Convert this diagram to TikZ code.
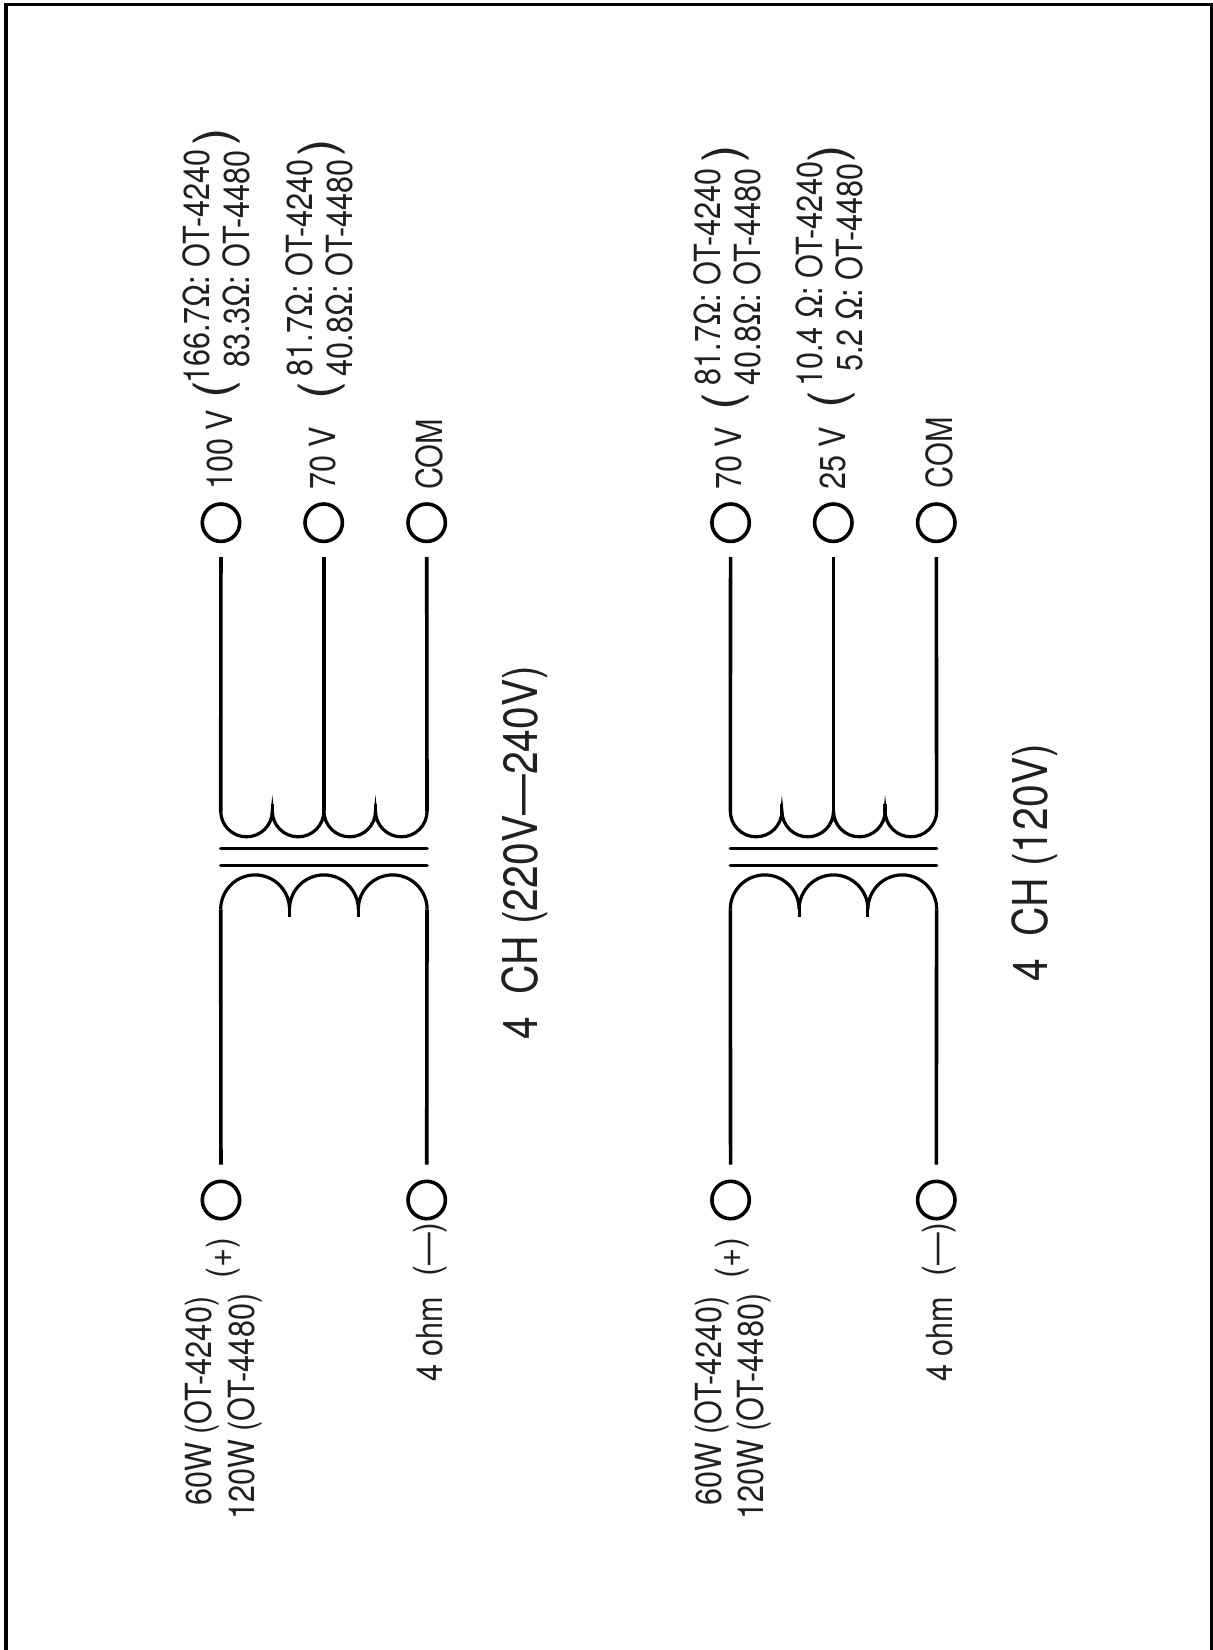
\documentclass[tikz,border=0pt]{standalone}
\usepackage{fontspec}
\setmainfont{TeX Gyre Heros}
\definecolor{inkgray}{HTML}{231F20}
\tikzset{
    wire/.style={black, line width=3.6pt},
    term/.style={circle, draw=black, line width=3.6pt, inner sep=0pt, minimum size=37.4pt},
    lab/.style={inkgray, anchor=base west, rotate=90, xscale=0.85, inner sep=0pt,
        font=\fontsize{36}{36}\selectfont},
    title/.style={lab, font=\fontsize{48}{48}\selectfont},
    sign/.style={lab, xscale=1.07},
    brace/.style={inkgray, anchor=center, rotate=90, xscale=1.05, inner sep=0pt,
        font=\fontsize{50}{50}\selectfont}
}
\begin{document}
\begin{tikzpicture}[x=1pt,y=-1pt]
    \useasboundingbox (0,0) rectangle (1213,1650);
    % Draw outside frame
    \coordinate (frameA) at (5.7,1652);
    \coordinate (frameB) at (5.7,4.6);
    \coordinate (frameC) at (1211.5,4.6);
    \coordinate (frameD) at (1211.5,1652);
    \draw[black, line width=3.6pt] (frameA) -- (frameB) -- (frameC) -- (frameD);
    % Draw the two transformers
    \foreach \dx/\pre in {0/a, 509.6/b}
    {
        \begin{scope}[xshift=\dx pt, name prefix=\pre-]
            % Terminals
            \node[term] (t1) at (221,522.7) {};
            \node[term] (t2) at (323.7,522.7) {};
            \node[term] (t3) at (426.7,522.7) {};
            \node[term] (in) at (221,1200) {};
            \node[term] (out) at (426.7,1200) {};
            % Upper coil
            \coordinate (u1) at (220.7,811);
            \coordinate (u2) at (323.7,811);
            \coordinate (u3) at (427,811);
            \draw[wire, shorten <=14pt] (t1) -- (u1);
            \draw[wire, shorten <=14pt] (t2) -- (u2);
            \draw[wire, shorten <=14pt] (t3) -- (u3);
            \draw[wire, line width=3.2pt] (u1)
                \foreach \i in {1,2,3,4} {arc[start angle=180, end angle=360, radius=25.8pt]};
            \draw[wire, line width=3.2pt] (272.2,804) -- (272.2,813);
            \draw[wire, line width=3.2pt] (375.4,804) -- (375.4,813);
            % Core
            \coordinate (c1) at (220.7,848.3);
            \coordinate (c2) at (427,848.3);
            \coordinate (c3) at (220.7,865.3);
            \coordinate (c4) at (427,865.3);
            \draw[wire, line cap=round] (c1) -- (c2);
            \draw[wire, line cap=round] (c3) -- (c4);
            % Lower coil
            \coordinate (p1) at (220.7,909.3);
            \coordinate (p2) at (427,909.3);
            \draw[wire, line width=3.2pt] (p1)
                \foreach \i in {1,2,3} {arc[start angle=180, end angle=0, radius=34.4pt]};
            \draw[wire, line width=3.2pt] (289.5,905) -- (289.5,917);
            \draw[wire, line width=3.2pt] (358.2,905) -- (358.2,917);
            \draw[wire, shorten >=15pt] (p1) -- (in);
            \draw[wire, shorten >=15pt] (p2) -- (out);
        \end{scope}
    }
    % Left labels
    \node[lab] (l100) at (232.7,490) {100 V};
    \node[lab] (l70) at (335.7,490) {70 V};
    \node[lab] (lcom) at (442,490) {COM};
    \node[lab] (la1) at (209.3,384) {166.7Ω: OT-4240};
    \node[lab] (la2) at (249.3,367.5) {83.3Ω: OT-4480};
    \node[brace] (lao) at (216.5,390) {(};
    \node[brace] (lac) at (216.5,137) {)};
    \node[lab] (lb1) at (312.7,376.5) {81.7Ω: OT-4240};
    \node[lab] (lb2) at (352.7,376.5) {40.8Ω: OT-4480};
    \node[brace] (lbo) at (321.5,391) {(};
    \node[brace] (lbc) at (321.5,148) {)};
    \node[lab] (lw1) at (211.7,1506) {60W (OT-4240)};
    \node[lab] (lw2) at (254,1520) {120W (OT-4480)};
    \node[sign] (lplus) at (232.4,1279) {(+)};
    \node[sign] (lminus) at (439,1277) {(—)};
    \node[lab] (lohm) at (442.7,1382) {4 ohm};
    \node[title] (ltitle) at (537.7,1040) {4\ \ CH (220V—240V)};
    % Right labels
    \node[lab] (r70) at (741.7,490) {70 V};
    \node[lab] (r25) at (845.7,490) {25 V};
    \node[lab] (rcom) at (952.3,488.5) {COM};
    \node[lab] (ra1) at (720.7,385.5) {81.7Ω: OT-4240};
    \node[lab] (ra2) at (760.7,385.5) {40.8Ω: OT-4480};
    \node[brace] (rao) at (726,402) {(};
    \node[brace] (rac) at (726,154) {)};
    \node[lab] (rb1) at (822.7,387) {10.4 Ω: OT-4240};
    \node[lab] (rb2) at (862.7,372) {5.2 Ω: OT-4480};
    \node[brace] (rbo) at (831.7,400) {(};
    \node[brace] (rbc) at (831.7,153.5) {)};
    \node[lab] (rw1) at (721.7,1506) {60W (OT-4240)};
    \node[lab] (rw2) at (763.3,1520) {120W (OT-4480)};
    \node[sign] (rplus) at (741.4,1279) {(+)};
    \node[sign] (rminus) at (948.4,1277) {(—)};
    \node[lab] (rohm) at (952.7,1382) {4 ohm};
    \node[title] (rtitle) at (1047.3,982) {4\ \ CH (120V)};
\end{tikzpicture}
\end{document}
